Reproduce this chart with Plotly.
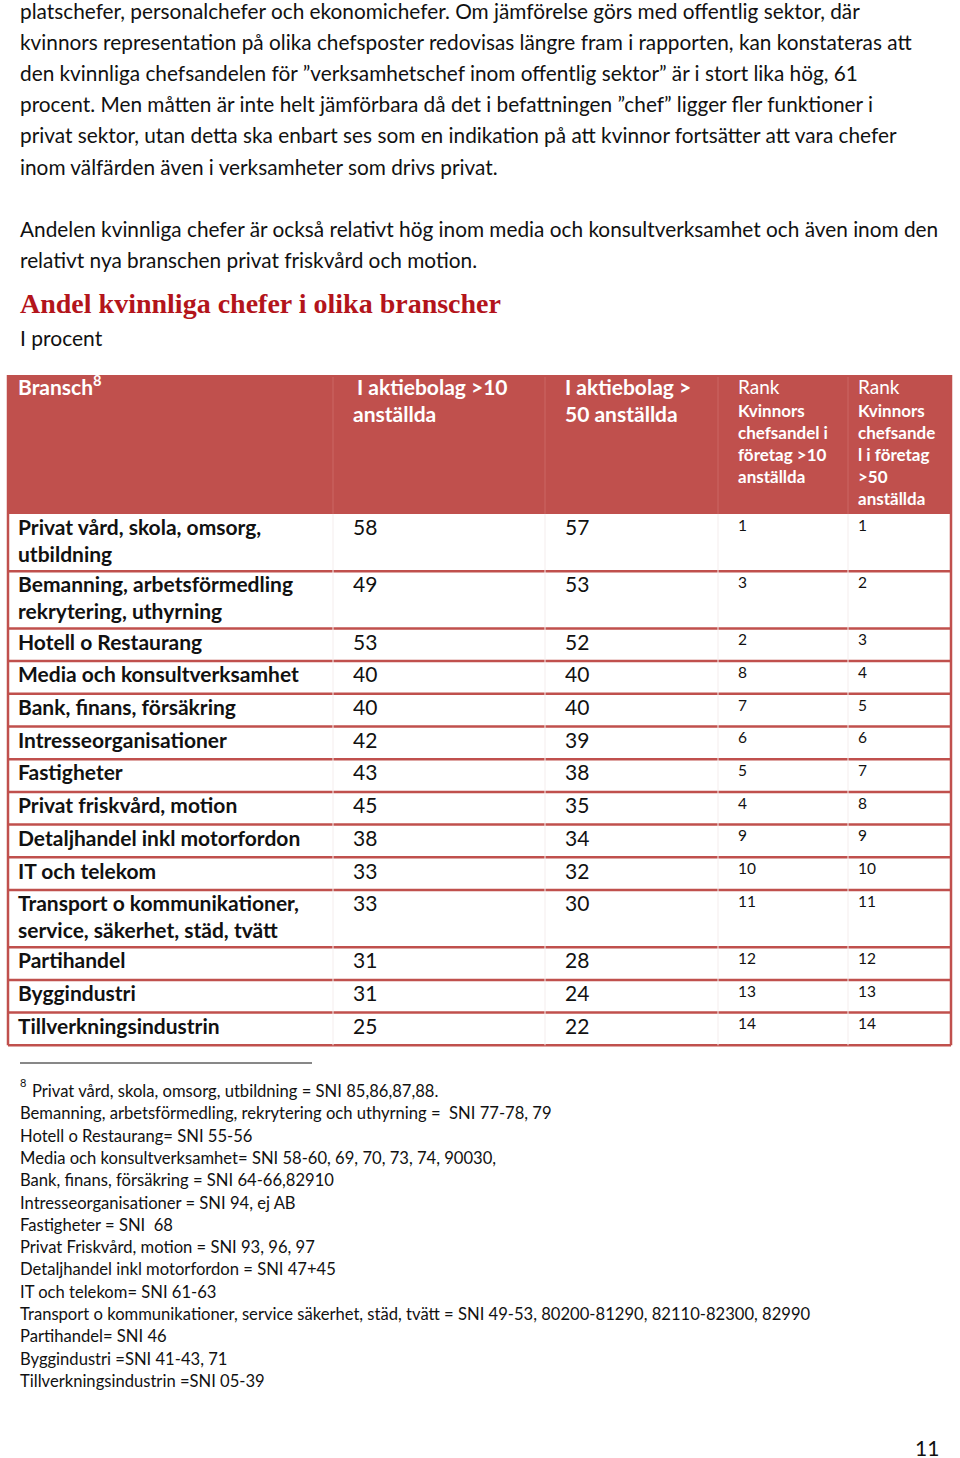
import plotly.graph_objects as go

# table data
branscher = [
    "Privat vård, skola, omsorg,<br>utbildning",
    "Bemanning, arbetsförmedling<br>rekrytering, uthyrning",
    "Hotell o Restaurang",
    "Media och konsultverksamhet",
    "Bank, finans, försäkring",
    "Intresseorganisationer",
    "Fastigheter",
    "Privat friskvård, motion",
    "Detaljhandel inkl motorfordon",
    "IT och telekom",
    "Transport o kommunikationer,<br>service, säkerhet, städ, tvätt",
    "Partihandel",
    "Byggindustri",
    "Tillverkningsindustrin",
]
andel_10 = [58, 49, 53, 40, 40, 42, 43, 45, 38, 33, 33, 31, 31, 25]
andel_50 = [57, 53, 52, 40, 40, 39, 38, 35, 34, 32, 30, 28, 24, 22]
rank_10 = [1, 3, 2, 8, 7, 6, 5, 4, 9, 10, 11, 12, 13, 14]
rank_50 = [1, 2, 3, 4, 5, 6, 7, 8, 9, 10, 11, 12, 13, 14]

header_bransch = "Bransch<sup>8</sup>"
header_10 = ["I aktiebolag >10", "anställda"]
header_50 = ["I aktiebolag >", "50 anställda"]
header_rank10 = ["Kvinnors", "chefsandel i", "företag >10", "anställda"]
header_rank50 = ["Kvinnors", "chefsande", "l i företag", ">50", "anställda"]

prose = [
    "platschefer, personalchefer och ekonomichefer. Om jämförelse görs med offentlig sektor, där",
    "kvinnors representation på olika chefsposter redovisas längre fram i rapporten, kan konstateras att",
    "den kvinnliga chefsandelen för ”verksamhetschef inom offentlig sektor” är i stort lika hög, 61",
    "procent. Men måtten är inte helt jämförbara då det i befattningen ”chef” ligger fler funktioner i",
    "privat sektor, utan detta ska enbart ses som en indikation på att kvinnor fortsätter att vara chefer",
    "inom välfärden även i verksamheter som drivs privat.",
    "",
    "Andelen kvinnliga chefer är också relativt hög inom media och konsultverksamhet och även inom den",
    "relativt nya branschen privat friskvård och motion.",
]

footnotes = [
    "Privat vård, skola, omsorg, utbildning = SNI 85,86,87,88.",
    "Bemanning, arbetsförmedling, rekrytering och uthyrning =  SNI 77-78, 79",
    "Hotell o Restaurang= SNI 55-56",
    "Media och konsultverksamhet= SNI 58-60, 69, 70, 73, 74, 90030,",
    "Bank, finans, försäkring = SNI 64-66,82910",
    "Intresseorganisationer = SNI 94, ej AB",
    "Fastigheter = SNI  68",
    "Privat Friskvård, motion = SNI 93, 96, 97",
    "Detaljhandel inkl motorfordon = SNI 47+45",
    "IT och telekom= SNI 61-63",
    "Transport o kommunikationer, service säkerhet, städ, tvätt = SNI 49-53, 80200-81290, 82110-82300, 82990",
    "Partihandel= SNI 46",
    "Byggindustri =SNI 41-43, 71",
    "Tillverkningsindustrin =SNI 05-39",
]

RED = "#C0504D"
FONT = "Lato"
INK = "#111"
W, H = 960, 1458

fig = go.Figure()
shapes = []
annotations = []

# prose text above the table
for i, line in enumerate(prose):
    if line:
        annotations.append(dict(x=18, y=10 + i * 31.2, text=line, showarrow=False,
                                xanchor="left", yanchor="middle",
                                font=dict(family=FONT, size=20.8, color=INK)))

annotations.append(dict(x=18, y=303, text="<b>Andel kvinnliga chefer i olika branscher</b>",
                        showarrow=False, xanchor="left", yanchor="middle",
                        font=dict(family="Liberation Serif", size=28, color="#B3141B")))
annotations.append(dict(x=18, y=337, text="I procent", showarrow=False, xanchor="left",
                        yanchor="middle", font=dict(family=FONT, size=21, color=INK)))

# table geometry
left, right = 8, 951
top, head_bottom = 375, 514
col_x = [18, 353, 565, 738, 858]
col_div = [333, 545, 718, 848]

shapes.append(dict(type="rect", x0=left, x1=right, y0=top, y1=head_bottom,
                   fillcolor=RED, line=dict(width=0), layer="below"))
for xd in col_div:
    shapes.append(dict(type="line", x0=xd, x1=xd, y0=top + 2, y1=head_bottom,
                       line=dict(color="#CB6764", width=1)))

# row positions from line count
row_tops = []
y = head_bottom
for name in branscher:
    n = name.count("<br>") + 1
    row_tops.append(y)
    y += 32.7 + (n - 1) * 24.5
table_bottom = y

for yt in row_tops[1:] + [table_bottom]:
    shapes.append(dict(type="line", x0=left, x1=right, y0=yt, y1=yt,
                       line=dict(color=RED, width=2.5)))
for xb in (left, right):
    shapes.append(dict(type="line", x0=xb, x1=xb, y0=top, y1=table_bottom,
                       line=dict(color=RED, width=2.5)))
for xd in col_div:
    shapes.append(dict(type="line", x0=xd, x1=xd, y0=head_bottom, y1=table_bottom,
                       line=dict(color="#F4EDED", width=1)))

# header text
white = "white"
hx, hy, ht = [], [], []
hx.append(col_x[0]); hy.append(390); ht.append("<b>" + header_bransch + "</b>")
for i, s in enumerate(header_10):
    hx.append(col_x[1] + (4 if i == 0 else 0)); hy.append(390 + 27 * i); ht.append("<b>" + s + "</b>")
for i, s in enumerate(header_50):
    hx.append(col_x[2]); hy.append(390 + 27 * i); ht.append("<b>" + s + "</b>")
fig.add_trace(go.Scatter(x=hx, y=hy, text=ht, mode="text", textposition="middle right",
                         textfont=dict(family=FONT, size=21, color=white),
                         hoverinfo="skip", showlegend=False))

rx, ry, rt = [], [], []
for cx, lines in ((col_x[3], header_rank10), (col_x[4], header_rank50)):
    for i, s in enumerate(lines):
        rx.append(cx); ry.append(413 + 22 * i); rt.append("<b>" + s + "</b>")
fig.add_trace(go.Scatter(x=rx, y=ry, text=rt, mode="text", textposition="middle right",
                         textfont=dict(family=FONT, size=17, color=white),
                         hoverinfo="skip", showlegend=False))
fig.add_trace(go.Scatter(x=[col_x[3], col_x[4]], y=[389, 389], text=["Rank", "Rank"],
                         mode="text", textposition="middle right",
                         textfont=dict(family=FONT, size=19, color=white),
                         hoverinfo="skip", showlegend=False))

# body: names (one point per line)
nx, ny, nt = [], [], []
for yt, name in zip(row_tops, branscher):
    for i, part in enumerate(name.split("<br>")):
        nx.append(col_x[0]); ny.append(yt + 16 + 27 * i); nt.append("<b>" + part + "</b>")
fig.add_trace(go.Scatter(x=nx, y=ny, text=nt, mode="text", textposition="middle right",
                         textfont=dict(family=FONT, size=21, color=INK),
                         hoverinfo="skip", showlegend=False))

# body: percentages
for cx, vals in ((col_x[1], andel_10), (col_x[2], andel_50)):
    fig.add_trace(go.Scatter(x=[cx] * len(vals), y=[yt + 16 for yt in row_tops],
                             text=[str(v) for v in vals], mode="text",
                             textposition="middle right",
                             textfont=dict(family=FONT, size=21, color=INK),
                             hoverinfo="skip", showlegend=False))

# body: ranks
for cx, vals in ((col_x[3], rank_10), (col_x[4], rank_50)):
    fig.add_trace(go.Scatter(x=[cx] * len(vals), y=[yt + 13 for yt in row_tops],
                             text=[str(v) for v in vals], mode="text",
                             textposition="middle right",
                             textfont=dict(family=FONT, size=15.5, color=INK),
                             hoverinfo="skip", showlegend=False))

# footnotes
shapes.append(dict(type="line", x0=20, x1=312, y0=1063, y1=1063,
                   line=dict(color=INK, width=1)))
annotations.append(dict(x=18, y=1082, text="8", showarrow=False, xanchor="left",
                        yanchor="middle", font=dict(family=FONT, size=11, color=INK)))
for i, line in enumerate(footnotes):
    annotations.append(dict(x=30 if i == 0 else 18, y=1091 + i * 22.3, text=line,
                            showarrow=False, xanchor="left", yanchor="middle",
                            font=dict(family=FONT, size=16.6, color=INK)))

annotations.append(dict(x=941, y=1447, text="11", showarrow=False, xanchor="right",
                        yanchor="middle", font=dict(family=FONT, size=21, color=INK)))

for a in annotations:
    a.update(xref="x", yref="y")
for s in shapes:
    s.update(xref="x", yref="y")

fig.update_layout(
    width=W, height=H,
    margin=dict(l=0, r=0, t=0, b=0),
    paper_bgcolor="white", plot_bgcolor="white",
    xaxis=dict(range=[0, W], visible=False, fixedrange=True),
    yaxis=dict(range=[H, 0], visible=False, fixedrange=True),
    shapes=shapes, annotations=annotations,
    showlegend=False,
)

# page body margin would shift the figure by 8px
fig.write_html("out.html", config={"displayModeBar": False},
               post_script="document.body.style.margin='0';")
